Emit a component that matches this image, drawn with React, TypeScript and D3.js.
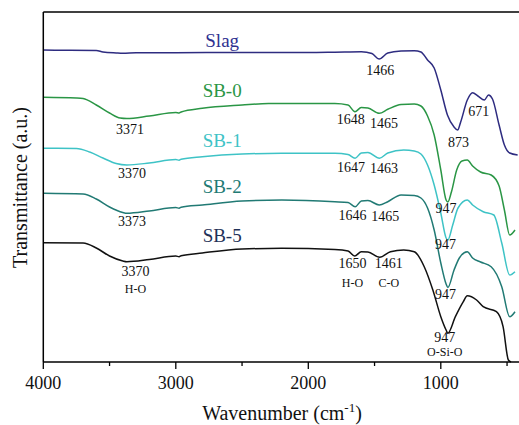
import React from 'react';
import { scaleLinear, line, curveMonotoneX } from 'd3';

const W = 519;
const H = 425;
const margin = { top: 12, left: 43.3, bottom: 63 };
const plotRight = 520.3;

// [wavenumber, transmittance (a.u.)]
const slag: [number, number][] = [
  [4000, 312], [3800, 311.7], [3600, 311.5], [3550, 310], [3450, 309], [3400, 308.7], [3300, 309.2],
  [3000, 309.3], [2500, 309.5], [2000, 309.5], [1800, 309.8], [1600, 310.2], [1520, 308.5], [1466, 303],
  [1400, 309], [1300, 311], [1200, 311.3], [1150, 310], [1100, 302], [1050, 294], [1000, 272], [950, 247],
  [900, 235], [873, 232], [850, 240], [800, 262], [760, 269.3], [720, 266], [671, 262], [640, 267],
  [610, 263], [560, 237], [520, 217], [480, 209], [420, 207],
];
const sb0: [number, number][] = [
  [4000, 264.7], [3750, 264], [3700, 263.5], [3600, 257], [3500, 249], [3420, 244], [3370, 243.5],
  [3200, 246], [3000, 249.5], [2975, 249], [2960, 250], [2800, 253.7], [2500, 257], [2300, 258.5],
  [2000, 258.5], [1800, 258.5], [1700, 257], [1648, 250.3], [1600, 254.5], [1550, 254], [1465, 248.7],
  [1400, 252.7], [1300, 257.5], [1200, 258], [1150, 256], [1100, 246], [1050, 227], [1000, 192],
  [960, 162], [947, 160], [920, 170], [880, 192], [840, 201], [800, 202], [760, 196], [700, 190],
  [620, 187], [560, 176], [520, 152], [480, 127], [440, 132],
];
const sb1: [number, number][] = [
  [4000, 213.7], [3750, 213.5], [3650, 210], [3550, 204], [3450, 198.5], [3370, 197], [3200, 199],
  [3000, 202.5], [2975, 201.8], [2960, 202.7], [2800, 205.3], [2500, 208], [2200, 208.7], [1800, 208.7],
  [1700, 207.5], [1647, 203.7], [1600, 209], [1550, 209.5], [1463, 203.7], [1400, 209], [1280, 212],
  [1200, 211], [1150, 208], [1100, 197], [1050, 177], [1000, 149], [960, 124], [947, 122], [910, 137],
  [870, 154], [800, 162], [760, 157], [680, 150.3], [600, 147], [540, 119], [480, 87], [440, 90.3],
];
const sb2: [number, number][] = [
  [4000, 168.7], [3700, 168], [3600, 163], [3500, 155], [3400, 149.5], [3370, 148.7], [3200, 151],
  [3000, 154.5], [2975, 153.8], [2960, 154.7], [2800, 157], [2500, 161], [2200, 162], [1800, 160.3],
  [1700, 159.5], [1646, 155.3], [1600, 161], [1550, 161.5], [1465, 157], [1400, 160.3], [1300, 167],
  [1200, 166.5], [1150, 164], [1100, 154], [1050, 132], [1000, 99], [960, 78], [947, 74.5], [900, 92],
  [860, 104], [800, 110.3], [760, 104], [700, 100], [620, 95.3], [540, 75.3], [480, 45.3], [440, 50.3],
];
const sb5: [number, number][] = [
  [4000, 119.3], [3700, 119], [3600, 114], [3500, 106], [3400, 101], [3370, 100.3], [3200, 102.5],
  [3000, 106], [2975, 105.3], [2960, 106.2], [2800, 109], [2500, 113], [2200, 113.7], [1800, 112.5],
  [1700, 111], [1650, 106], [1600, 110.3], [1550, 110], [1461, 104.7], [1380, 110.3], [1280, 112],
  [1200, 110.3], [1125, 95.3], [1060, 72], [1000, 45.3], [960, 32], [947, 28.7], [890, 45.3],
  [830, 60.3], [800, 66.3], [730, 62], [680, 55.3], [580, 50.3], [530, 35.3], [490, 2], [470, 0],
];

const seriesNames = ['Slag', 'SB-0', 'SB-1', 'SB-2', 'SB-5'];
const seriesData = [slag, sb0, sb1, sb2, sb5];
const lineColors = ['#2e2c80', '#2a9645', '#3ec3c6', '#217a74', '#111111'];
const labelColors = ['#2e3190', '#2a9645', '#3ec3c6', '#217a74', '#1f3158'];
// series label: [wavenumber, transmittance]
const seriesLabelPos: [number, number][] = [[2650, 315], [2650, 265.5], [2650, 215.5], [2650, 169], [2650, 120.5]];

// peak annotations: [text, wavenumber, transmittance(baseline)]
const peakLabels: [string, number, number][] = [
  ['3371', 3345, 228], ['3370', 3330, 183.7], ['3373', 3330, 136], ['3370', 3305, 86],
  ['1466', 1457, 287], ['873', 866, 215.3], ['671', 714, 246],
  ['1648', 1680, 238], ['1465', 1428, 234.3],
  ['1647', 1678, 190.3], ['1463', 1428, 188.7], ['947', 960, 148.7],
  ['1646', 1667, 142], ['1465', 1420, 141], ['947', 965, 112.7],
  ['1650', 1667, 93.7], ['1461', 1392, 93.7], ['947', 965, 62.7],
  ['947', 970, 20.3],
];
const bondLabels: [string, number, number][] = [
  ['H-O', 3305, 68.7], ['H-O', 1667, 74.7], ['C-O', 1392, 74.7], ['O-Si-O', 970, 6],
];

const majorTicks = [4000, 3000, 2000, 1000];
const minorTicks = [3500, 2500, 1500, 500];

const font = "'Liberation Serif', 'Times New Roman', Times, serif";

export default function App() {
  const x = scaleLinear().domain([4000, 400]).range([margin.left, plotRight]);
  const y = scaleLinear().domain([0, 350]).range([H - margin.bottom, margin.top]);
  const path = line<[number, number]>()
    .x(d => x(d[0]))
    .y(d => y(d[1]))
    .curve(curveMonotoneX);
  const y0 = y(0);
  const ts = { fontFamily: font };

  return (
    <div style={{ position: 'fixed', left: 0, top: 0 }}>
      <svg width={W} height={H} style={{ display: 'block', background: '#fff', fontFamily: font }}>
        {seriesData.map((d, i) => (
          <path key={seriesNames[i]} d={path(d) || ''} fill="none" stroke={lineColors[i]} strokeWidth={1.5} strokeLinejoin="round" />
        ))}

        {/* axes frame */}
        <line x1={margin.left} x2={W} y1={y(350)} y2={y(350)} stroke="#000" strokeWidth={1.3} />
        <line x1={margin.left} x2={margin.left} y1={y(350)} y2={y0} stroke="#000" strokeWidth={1.5} />
        <line x1={margin.left} x2={W} y1={y0} y2={y0} stroke="#000" strokeWidth={1.5} />
        {majorTicks.map(t => (
          <g key={t}>
            <line x1={x(t)} x2={x(t)} y1={y0} y2={y0 + 7} stroke="#000" strokeWidth={1.3} />
            <text style={ts} x={x(t)} y={389} fontSize={18} textAnchor="middle" fill="#111">{t}</text>
          </g>
        ))}
        {minorTicks.map(t => (
          <line key={t} x1={x(t)} x2={x(t)} y1={y0} y2={y0 + 4} stroke="#000" strokeWidth={1.3} />
        ))}

        <text style={ts} x={282} y={420} fontSize={20} textAnchor="middle" fill="#111">
          Wavenumber (cm<tspan dy={-8} fontSize={13}>-1</tspan><tspan dy={8}>)</tspan>
        </text>
        <text style={ts} transform={`translate(27, 187.5) rotate(-90)`} fontSize={20} textAnchor="middle" fill="#111">
          Transmittance (a.u.)
        </text>

        {seriesNames.map((n, i) => (
          <text style={ts} key={n} x={x(seriesLabelPos[i][0])} y={y(seriesLabelPos[i][1])} fontSize={19} textAnchor="middle" fill={labelColors[i]}>
            {n}
          </text>
        ))}

        {peakLabels.map(([t, w, v], i) => (
          <text style={ts} key={i} x={x(w)} y={y(v)} fontSize={14} textAnchor="middle" fill="#111">{t}</text>
        ))}
        {bondLabels.map(([t, w, v], i) => (
          <text style={ts} key={i} x={x(w)} y={y(v)} fontSize={12} textAnchor="middle" fill="#111">{t}</text>
        ))}
      </svg>
    </div>
  );
}
